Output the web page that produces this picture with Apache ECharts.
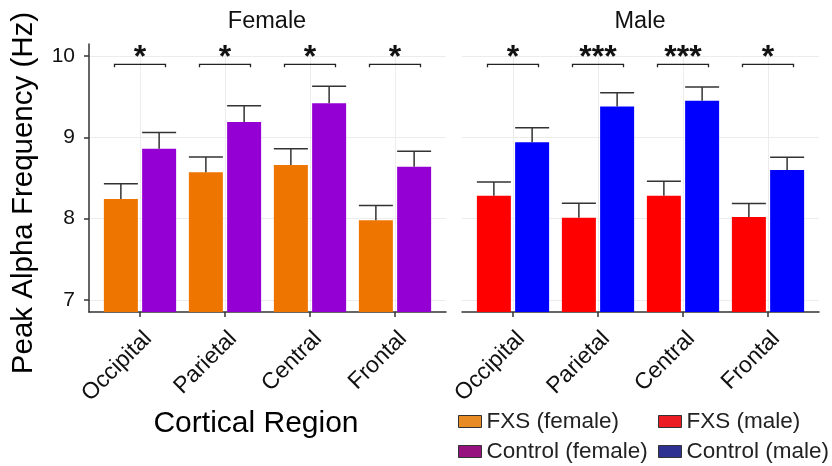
<!DOCTYPE html>
<html><head><meta charset="utf-8">
<script src="https://cdn.jsdelivr.net/npm/echarts@6/dist/echarts.min.js"></script>
<style>html,body{margin:0;padding:0;background:#fff}#c{width:832px;height:466px}</style>
</head><body><div id="c"></div>
<script>
const regions = ['Occipital', 'Parietal', 'Central', 'Frontal'];
const femaleFXS = [8.24, 8.57, 8.66, 7.98];
const femaleFXSse = [0.19, 0.19, 0.20, 0.18];
const femaleCtrl = [8.86, 9.19, 9.42, 8.64];
const femaleCtrlse = [0.20, 0.20, 0.21, 0.19];
const maleFXS = [8.28, 8.01, 8.28, 8.02];
const maleFXSse = [0.17, 0.18, 0.18, 0.165];
const maleCtrl = [8.94, 9.38, 9.45, 8.60];
const maleCtrlse = [0.18, 0.17, 0.17, 0.155];
const femaleSig = ['*', '*', '*', '*'];
const maleSig = ['*', '***', '***', '*'];
const yTicks = [7, 8, 9, 10];
const bracketY = 9.9;

const xPos = regions.map((_, i) => i + 1);
const FONT = '"Liberation Sans", Arial, sans-serif';
const dark = '#333';

function barSeries(name, idx, vals, color) {
  return {
    name: name, type: 'bar', xAxisIndex: idx, yAxisIndex: idx,
    data: vals.map((v, i) => [xPos[i], v]),
    barWidth: 34, barGap: '12.5%',
    itemStyle: { color: color }, clip: true, silent: true
  };
}
function errSeries(idx, vals, ses, offset) {
  return {
    type: 'custom', xAxisIndex: idx, yAxisIndex: idx, z: 3, silent: true,
    data: vals.map((v, i) => [xPos[i], v, v + ses[i]]),
    renderItem: function (params, api) {
      const x = api.value(0) + offset;
      const p0 = api.coord([x, api.value(1)]);
      const p1 = api.coord([x, api.value(2)]);
      const hw = api.size([0.2, 0])[0];
      const st = { stroke: dark, lineWidth: 1.5 };
      return { type: 'group', children: [
        { type: 'line', shape: { x1: p0[0], y1: p0[1], x2: p1[0], y2: p1[1] }, style: st },
        { type: 'line', shape: { x1: p1[0] - hw, y1: p1[1], x2: p1[0] + hw, y2: p1[1] }, style: st }
      ] };
    }
  };
}
function sigSeries(idx, sig) {
  return {
    type: 'custom', xAxisIndex: idx, yAxisIndex: idx, z: 4, silent: true,
    data: sig.map((s, i) => [xPos[i], bracketY]),
    renderItem: function (params, api) {
      const x = api.value(0);
      const l = api.coord([x - 0.3, api.value(1)]);
      const r = api.coord([x + 0.3, api.value(1)]);
      const d = 3;
      return { type: 'group', children: [
        { type: 'polyline', shape: { points: [[l[0], l[1] + d], [l[0], l[1]], [r[0], r[1]], [r[0], r[1] + d]] },
          style: { stroke: '#222', lineWidth: 1.3, fill: null } },
        { type: 'text', x: (l[0] + r[0]) / 2, y: l[1] + 10,
          style: { text: sig[params.dataIndex], fontSize: 32, fontWeight: 'bold', fill: '#111',
                   align: 'center', verticalAlign: 'bottom', fontFamily: FONT } }
      ] };
    }
  };
}
function xAxisDef(idx) {
  return {
    gridIndex: idx, type: 'value', min: 0.4, max: 4.6,
    axisLine: { show: true, onZero: false, lineStyle: { color: dark, width: 1.5 } },
    axisTick: { show: true, length: 5, customValues: xPos, lineStyle: { color: dark, width: 1.5 } },
    axisLabel: { customValues: xPos, formatter: v => regions[Math.round(v) - 1] || '',
                 rotate: 45, fontSize: 23, color: '#111', align: 'right', verticalAlign: 'top',
                 padding: [0, 0, 0, 0], margin: 15, fontFamily: FONT },
    splitLine: { show: true, lineStyle: { color: '#ececec', width: 1 } }
  };
}
function yAxisDef(idx) {
  const first = idx === 0;
  const ax = {
    gridIndex: idx, type: 'value', min: 6.85, max: 10.15,
    axisLine: { show: first, lineStyle: { color: dark, width: 1.5 } },
    axisTick: { show: first, length: 5, customValues: yTicks, lineStyle: { color: dark, width: 1.5 } },
    axisLabel: { show: first, customValues: yTicks, fontSize: 21, color: '#111', margin: 14, fontFamily: FONT },
    splitLine: { show: true, lineStyle: { color: '#ececec', width: 1 } }
  };
  if (first) {
    ax.name = 'Peak Alpha Frequency (Hz)';
    ax.nameLocation = 'middle';
    ax.nameRotate = 90;
    ax.nameGap = 50;
    ax.nameTextStyle = { fontSize: 29.5, color: '#000', fontFamily: FONT, padding: [0, 30, 0, 0] };
  }
  return ax;
}
const legendCommon = {
  orient: 'vertical', top: 410, itemGap: 7, itemWidth: 23, itemHeight: 12, icon: 'rect',
  padding: 0, selectedMode: false,
  textStyle: { fontSize: 22.5, color: '#222', fontFamily: FONT },
  itemStyle: { borderColor: '#333', borderWidth: 1 }
};

const chart = echarts.init(document.getElementById('c'), null, { renderer: 'canvas' });
chart.setOption({
  animation: false,
  backgroundColor: '#fff',
  textStyle: { fontFamily: FONT },
  title: [
    { text: 'Female', left: 267, top: 10, textAlign: 'center', padding: 0,
      textStyle: { fontSize: 23.5, fontWeight: 'normal', color: '#111', fontFamily: FONT } },
    { text: 'Male', left: 640, top: 10, textAlign: 'center', padding: 0,
      textStyle: { fontSize: 23.5, fontWeight: 'normal', color: '#111', fontFamily: FONT } },
    { text: 'Cortical Region', left: 256, top: 409, textAlign: 'center', padding: 0,
      textStyle: { fontSize: 30, fontWeight: 'normal', color: '#000', fontFamily: FONT } }
  ],
  legend: [
    Object.assign({}, legendCommon, { left: 458, data: [
      { name: 'FXS (female)', itemStyle: { color: '#E88B25' } },
      { name: 'Control (female)', itemStyle: { color: '#98127F' } } ] }),
    Object.assign({}, legendCommon, { left: 658, data: [
      { name: 'FXS (male)', itemStyle: { color: '#EC1C24' } },
      { name: 'Control (male)', itemStyle: { color: '#2E3192' } } ] })
  ],
  grid: [
    { left: 89, right: 386, top: 44, bottom: 154 },
    { left: 462, right: 13, top: 44, bottom: 154 }
  ],
  xAxis: [xAxisDef(0), xAxisDef(1)],
  yAxis: [yAxisDef(0), yAxisDef(1)],
  series: [
    barSeries('FXS (female)', 0, femaleFXS, '#EE7600'),
    barSeries('Control (female)', 0, femaleCtrl, '#9400D3'),
    barSeries('FXS (male)', 1, maleFXS, '#FF0000'),
    barSeries('Control (male)', 1, maleCtrl, '#0000FF'),
    errSeries(0, femaleFXS, femaleFXSse, -0.225),
    errSeries(0, femaleCtrl, femaleCtrlse, 0.225),
    errSeries(1, maleFXS, maleFXSse, -0.225),
    errSeries(1, maleCtrl, maleCtrlse, 0.225),
    sigSeries(0, femaleSig),
    sigSeries(1, maleSig)
  ]
});
</script></body></html>
